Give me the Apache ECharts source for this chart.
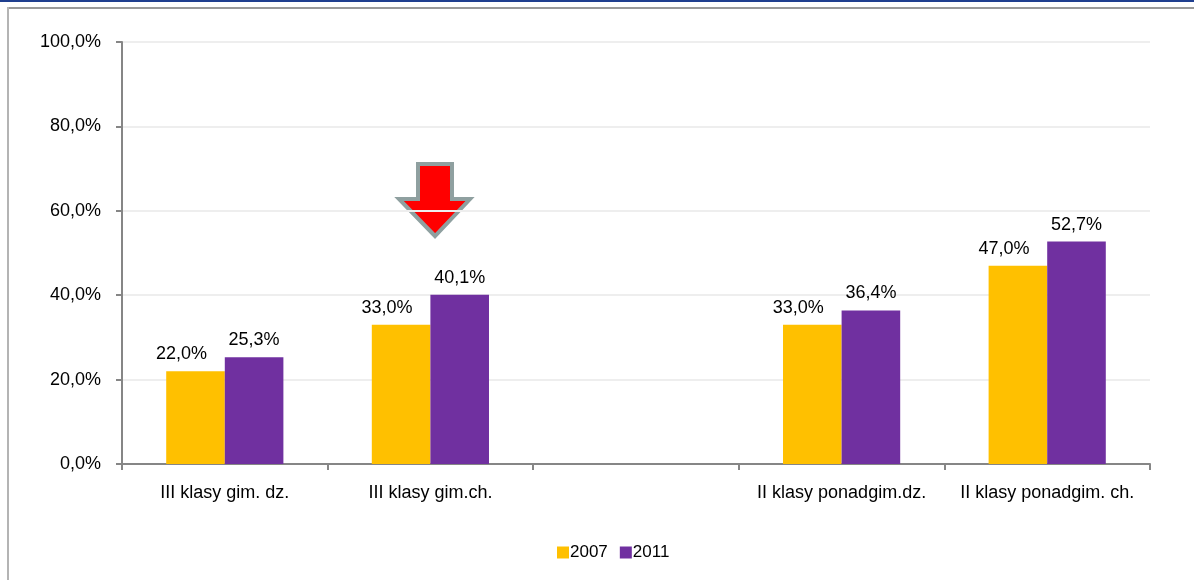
<!DOCTYPE html>
<html>
<head>
<meta charset="utf-8">
<script src="https://cdn.jsdelivr.net/npm/echarts@6/dist/echarts.min.js"></script>
<style>
  html, body { margin: 0; padding: 0; background: #fff; }
  #chart { width: 1194px; height: 580px; }
</style>
</head>
<body>
<div id="chart"></div>
<script>
var categories = ['III klasy gim. dz.', 'III klasy gim.ch.', '', 'II klasy ponadgim.dz.', 'II klasy ponadgim. ch.'];
var values2007 = [22.0, 33.0, null, 33.0, 47.0];
var values2011 = [25.3, 40.1, null, 36.4, 52.7];
var yTicks = [0, 20, 40, 60, 80, 100];

var font = '"Liberation Sans", Arial, sans-serif';

function pct(v) {
  return v.toFixed(1).replace('.', ',') + '%';
}

var chart = echarts.init(document.getElementById('chart'));

function labelStyle(dx) {
  return {
    show: true,
    position: 'top',
    distance: 8,
    offset: [dx, 0],
    color: '#000',
    fontFamily: font,
    fontSize: 18,
    formatter: function(p) { return p.value == null ? '' : pct(p.value); }
  };
}

chart.setOption({
  animation: false,
  grid: { left: 122, right: 44, top: 42, bottom: 116 },
  legend: {
    bottom: 14,
    left: 552,
    itemWidth: 12,
    itemHeight: 12,
    itemGap: 12,
    icon: 'rect',
    textStyle: { fontFamily: font, fontSize: 17, color: '#000', padding: [0, 0, 0, -4] },
    data: ['2007', '2011']
  },
  xAxis: {
    type: 'category',
    data: categories,
    axisLine: { lineStyle: { color: '#868686', width: 2 } },
    axisTick: { show: true, length: 6, lineStyle: { color: '#868686', width: 2 } },
    axisLabel: { color: '#000', fontFamily: font, fontSize: 18, margin: 20, interval: 0 }
  },
  yAxis: {
    type: 'value',
    min: yTicks[0],
    max: yTicks[yTicks.length - 1],
    interval: 20,
    axisLine: { show: true, lineStyle: { color: '#868686', width: 2 } },
    axisTick: { show: true, length: 6, lineStyle: { color: '#868686', width: 2 } },
    splitLine: { lineStyle: { color: '#eeeeee', width: 2 } },
    axisLabel: {
      color: '#000', fontFamily: font, fontSize: 18, margin: 21,
      formatter: function(v) { return pct(v); }
    }
  },
  series: [
    {
      name: '2007', type: 'bar', data: values2007,
      itemStyle: { color: '#FFC000' },
      barGap: '0%', barCategoryGap: '43%',
      label: labelStyle(-14)
    },
    {
      name: '2011', type: 'bar', data: values2011,
      itemStyle: { color: '#7030A0' },
      label: labelStyle(0)
    }
  ],
  graphic: [
    { type: 'rect', shape: { x: 0, y: 0, width: 1194, height: 2 }, style: { fill: '#1f3f8f' } },
    { type: 'rect', shape: { x: 8, y: 7, width: 1186, height: 2 }, style: { fill: '#9a9a9a' } },
    { type: 'rect', shape: { x: 7, y: 7, width: 2, height: 573 }, style: { fill: '#b4b4b4' } },
    {
      type: 'polygon',
      shape: { points: [[418, 164], [452, 164], [452, 199], [470, 199], [435, 236], [399, 199], [418, 199]] },
      style: { fill: '#ff0000', stroke: '#8fa0a0', lineWidth: 4, lineJoin: 'miter' }
    }
  ]
});
</script>
</body>
</html>
